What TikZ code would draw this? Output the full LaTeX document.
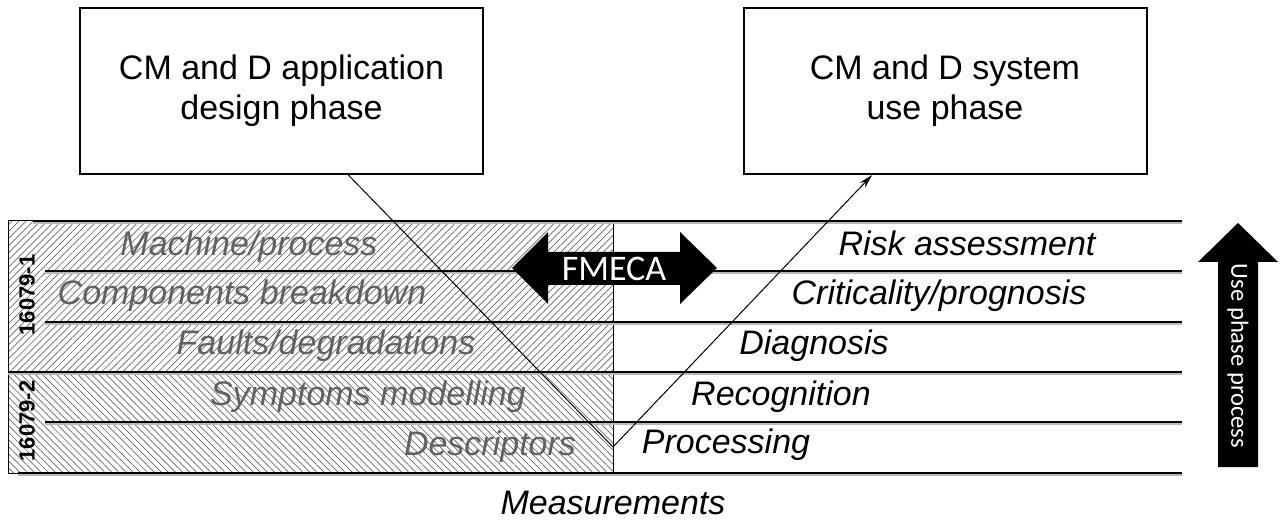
\documentclass[tikz,border=0pt]{standalone}
\usepackage{fontspec}
\setmainfont{Liberation Sans}
\newfontfamily\calib{Carlito}
\usetikzlibrary{patterns.meta,arrows.meta,calc}

\begin{document}
\begin{tikzpicture}[x=0.5pt,y=-0.5pt,
  phasebox/.style={draw,line width=1pt,minimum width=201.5pt,minimum height=83pt,
    align=center,font=\fontsize{17}{20}\selectfont},
  rowline/.style={line width=1pt},
  rowshadow/.style={line width=0.8pt,gray!55},
  design/.style={font=\fontsize{17}{20}\selectfont\itshape,text=black!62,anchor=base,inner sep=0pt},
  usetext/.style={font=\fontsize{17}{20}\selectfont\itshape,anchor=base,inner sep=0pt},
  partlabel/.style={font=\fontsize{11}{12}\selectfont\bfseries,rotate=90,inner sep=0pt},
  link/.style={line width=0.5pt},
  bigarrow/.style={fill=black},
  arrowtext/.style={text=white,inner sep=0pt}]

\useasboundingbox (0,0) rectangle (1284,523);

% phase boxes
\node[phasebox] (design) at (281.5,91) {CM and D application\\design phase};
\node[phasebox] (usebox) at (945,91) {CM and D system\\use phase};

% hatched standard areas
\fill[pattern={Lines[angle=45,distance=2.5pt,line width=0.35pt]},pattern color=black!60]
  (8,221) rectangle (613,372);
\fill[pattern={Lines[angle=-45,distance=2.5pt,line width=0.35pt]},pattern color=black!60]
  (8,372) rectangle (613,473);
\draw[link] (8,221) rectangle (613,473);

% row lines (with a soft shadow)
\foreach \y/\xa in {221/33,271/45,322/45,372/8,422/45,473/18}{
  \draw[rowshadow] (\xa,\y+2) -- (1182,\y+2);
  \draw[rowline] (\xa,\y) -- (1182,\y);
}

% standard part labels
\node[partlabel] (part1) at (27,295) {16079-1};
\node[partlabel] (part2) at (27,421) {16079-2};

% design-phase levels
\node[design] (machine) at (249,256) {Machine/process};
\node[design] (components) at (242,305) {Components breakdown};
\node[design] (faults) at (326,355) {Faults/degradations};
\node[design] (symptoms) at (368,406) {Symptoms modelling};
\node[design] (descriptors) at (490,455) {Descriptors};

% use-phase levels
\node[usetext] (risk) at (967,256) {Risk assessment};
\node[usetext] (criticality) at (939,305) {Criticality/prognosis};
\node[usetext] (diagnosis) at (814,355) {Diagnosis};
\node[usetext] (recognition) at (781,406) {Recognition};
\node[usetext] (processing) at (726,453) {Processing};
\node[usetext] (measurements) at (613,514) {Measurements};

% connectors through the turning point
\coordinate (pivot) at (613,447);
\coordinate (dstart) at ($(design.south west)!0.665!(design.south east)$);
\coordinate (uend) at ($(usebox.south west)!0.32!(usebox.south east)$);
\draw[link] (dstart) -- (pivot);
\draw[link,-{Stealth[length=7pt,width=3.6pt]}] (pivot) -- (uend);

% FMECA double arrow
\fill[bigarrow] (512,268) -- (548,232) -- (548,252) -- (680,252) -- (680,232)
  -- (717,268) -- (680,304) -- (680,285) -- (548,285) -- (548,304) -- cycle;
\node[arrowtext,font=\calib\fontsize{18}{20}\selectfont] (fmeca) at (614,269) {FMECA};

% use phase process arrow
\fill[bigarrow] (1238,223) -- (1278,262) -- (1258,262) -- (1258,467)
  -- (1218,467) -- (1218,262) -- (1198,262) -- cycle;
\node[arrowtext,rotate=-90,font=\calib\fontsize{12.3}{14}\selectfont] (usephase) at (1238,356) {Use phase process};

\end{tikzpicture}
\end{document}
